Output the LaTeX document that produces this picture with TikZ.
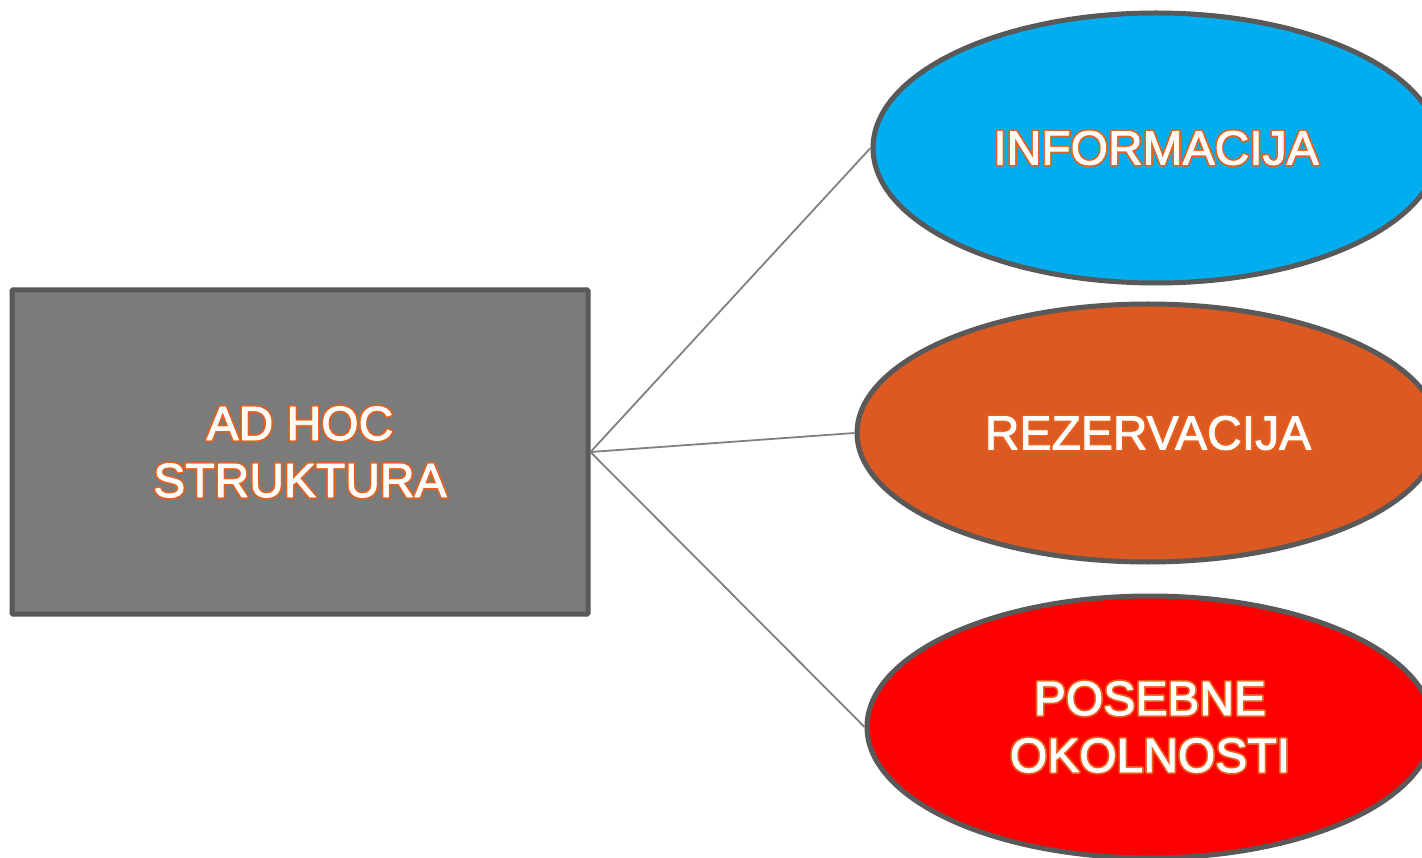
\documentclass[tikz,border=0pt]{standalone}
\usepackage{fontspec}
\setmainfont{Liberation Sans}
\usepackage{tikz}
\usetikzlibrary{shapes.geometric}
\definecolor{rim}{HTML}{595959}
\definecolor{boxgray}{HTML}{7B7B7B}
\definecolor{skyblue}{HTML}{00AEEF}
\definecolor{rust}{HTML}{DC5A22}
\definecolor{brightred}{HTML}{FF0000}
\definecolor{glow}{HTML}{E8601C}
% white letters with an orange rim: stroke first, fill on top
\newcommand{\rim}[1]{\special{pdf:literal direct q 1 Tr 4.4 w 1 j 0.91 0.376 0.11 RG}#1\special{pdf:literal direct Q}}
\newcommand{\body}[1]{\special{pdf:literal direct q 2 Tr 0.9 w 1 j 1 1 1 RG}#1\special{pdf:literal direct Q}}
\newcommand{\lbl}[1]{\rlap{\rim{#1}}\body{#1}}
\tikzset{
  box/.style={draw=rim, line width=5pt, rounded corners=1pt, fill=boxgray, minimum width=576pt, minimum height=324pt},
  oval/.style={ellipse, draw=rim, line width=5pt},
  word/.style={text=white, align=center, font=\fontsize{48}{57}\selectfont},
  link/.style={draw=gray, line width=1.8pt}
}
\begin{document}
\begin{tikzpicture}[x=1pt, y=-1pt]
\useasboundingbox (0,0) rectangle (1422,858);

\node [box] (struktura) at (300,452) {};
\node [word] at (struktura.center) {\lbl{AD HOC}\\\lbl{STRUKTURA}};

% right side
\node [oval, fill=skyblue, minimum width=566pt, minimum height=270pt] (info) at (1156,148) {};
\node [oval, fill=rust, minimum width=582pt, minimum height=258pt] (rez) at (1148,433) {};
\node [oval, fill=brightred, minimum width=566pt, minimum height=262pt] (posebne) at (1150,727) {};

\node [word] at (info.center) {\lbl{INFORMACIJA}};
\node [word] at (rez.center) {\lbl{REZERVACIJA}};
\node [word] at (posebne.center) {\lbl{POSEBNE}\\\lbl{OKOLNOSTI}};

\foreach \n in {info,rez,posebne} {\draw [link] (struktura.east) -- (\n.west);}

\end{tikzpicture}
\end{document}
